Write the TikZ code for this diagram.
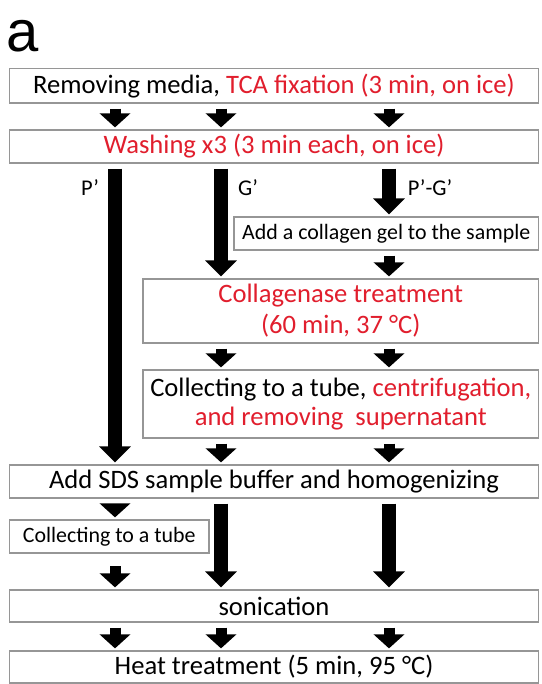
\documentclass[tikz,border=0pt]{standalone}
\usepackage{fontspec}
\setmainfont{Carlito}
\newfontfamily\panelfont{Liberation Sans}
\usetikzlibrary{arrows.meta,calc}
\definecolor{txtred}{RGB}{225,30,45}
\definecolor{boxgray}{RGB}{150,150,150}
\tikzset{
  stepbox/.style={draw=boxgray, line width=1.2pt, fill=white, inner sep=0pt,
    font=\fontsize{26.6}{31}\selectfont, align=center},
  smallbox/.style={stepbox, font=\fontsize{21.9}{26}\selectfont},
  longarrow/.style={line width=14pt, -{Triangle[width=31pt,length=16pt]}},
  shortarrow/.style={line width=11pt, -{Triangle[width=30pt,length=14pt]}},
  lbl/.style={font=\fontsize{22.5}{26}\selectfont, inner sep=0pt}
}
\begin{document}
\begin{tikzpicture}[x=1pt,y=-1pt]
\useasboundingbox (0,0) rectangle (541,684);
\node[font=\panelfont\fontsize{58}{60}\selectfont, anchor=base west, inner sep=0pt] (panel) at (6,52) {a};

\coordinate (c1) at (115,0);
\coordinate (c2) at (221,0);
\coordinate (c3) at (389,0);

\node[stepbox, minimum width=529pt, minimum height=34.5pt] (b1) at (274,85.75)
  {Removing media, \textcolor{txtred}{TCA fixation (3 min, on ice)}};
\node[stepbox, minimum width=529pt, minimum height=33pt, text=txtred] (b2) at (274,146.5)
  {Washing x3 (3 min each, on ice)};
\node[smallbox, minimum width=304.5pt, minimum height=33pt] (bcol) at (386.25,233.5)
  {Add a collagen gel to the sample};
\node[stepbox, minimum width=395.5pt, minimum height=64pt, text=txtred] (bcase) at (340.75,311)
  {Collagenase treatment\\(60 min, 37 °C)};
\node[stepbox, minimum width=395.5pt, minimum height=68pt, font=\fontsize{26.6}{29}\selectfont] (bcoll) at (340.75,404)
  {Collecting to a tube, \textcolor{txtred}{centrifugation,}\\\textcolor{txtred}{and removing\ \ supernatant}};
\node[stepbox, minimum width=529pt, minimum height=33pt] (bsds) at (274,481.5)
  {Add SDS sample buffer and homogenizing};
\node[smallbox, minimum width=199.5pt, minimum height=33pt] (btube) at (109.25,536.5)
  {Collecting to a tube};
\node[stepbox, minimum width=529pt, minimum height=32pt] (bson) at (274,606)
  {sonication};
\node[stepbox, minimum width=529pt, minimum height=32pt] (bheat) at (274,667)
  {Heat treatment (5 min, 95 °C)};

% short arrows
\foreach \c in {c1,c2,c3}{
  \draw[shortarrow] ($(b1.south -| \c)+(0,5)$) -- ($(b2.north -| \c)+(0,-2)$);
  \draw[shortarrow] ($(bson.south -| \c)+(0,5)$) -- ($(bheat.north -| \c)+(0,-2)$);
}
\draw[shortarrow] ($(bcol.south -| c3)+(0,5)$) -- ($(bcase.north -| c3)+(0,-2)$);
\foreach \c in {c2,c3}{
  \draw[shortarrow] ($(bcase.south -| \c)+(0,5)$) -- ($(bcoll.north -| \c)+(0,-2)$);
  \draw[shortarrow] ($(bcoll.south -| \c)+(0,5)$) -- ($(bsds.north -| \c)+(0,-2)$);
}
\draw[shortarrow] ($(bsds.south -| c1)+(0,5)$) -- ($(btube.north -| c1)+(0,-2)$);
\draw[shortarrow] ($(bson.north -| c1)+(0,-23)$) -- ($(bson.north -| c1)+(0,-2)$);

% long arrows
\draw[longarrow] ($(b2.south -| c1)+(0,5)$) -- ($(bsds.north -| c1)+(0,-2)$);
\draw[longarrow] ($(b2.south -| c2)+(0,5)$) -- ($(bcase.north -| c2)+(0,-2)$);
\draw[longarrow] ($(b2.south -| c3)+(0,5)$) -- ($(bcol.north -| c3)+(0,-2)$);
\draw[longarrow] ($(bsds.south -| c2)+(0,5)$) -- ($(bson.north -| c2)+(0,-2)$);
\draw[longarrow] ($(bsds.south -| c3)+(0,5)$) -- ($(bson.north -| c3)+(0,-2)$);

% labels
\node[lbl] (lp) at (90,188) {P’};
\node[lbl] (lg) at (248,188) {G’};
\node[lbl] (lpg) at (430,188) {P’-G’};
\end{tikzpicture}
\end{document}
